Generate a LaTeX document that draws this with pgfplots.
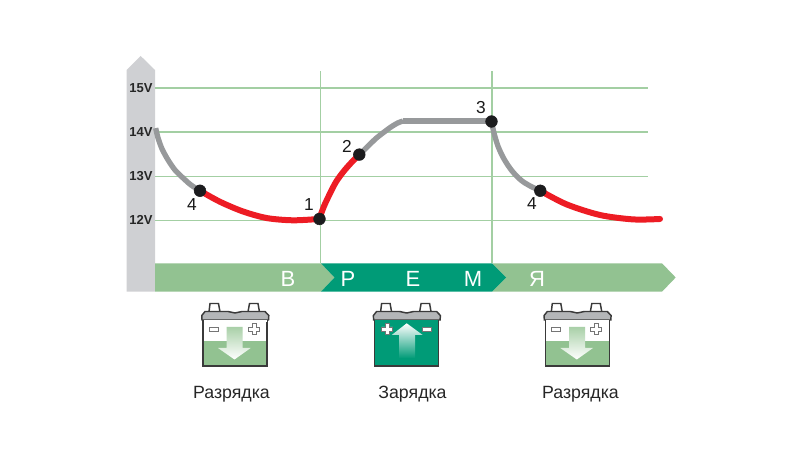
\documentclass[border=0pt]{standalone}
\usepackage{fontspec}
\setmainfont{Liberation Sans}
\usepackage{pgfplots}
\pgfplotsset{compat=1.18}

\definecolor{lgreen}{HTML}{92C291}
\definecolor{gridg}{HTML}{A3CFA3}
\definecolor{tealg}{HTML}{009B77}
\definecolor{barg}{HTML}{CFD0D3}
\definecolor{curveg}{HTML}{97999B}
\definecolor{curver}{HTML}{ED1C24}
\definecolor{dot}{HTML}{1C1C1E}
\definecolor{lid}{HTML}{B4B6B8}
\definecolor{edge}{HTML}{3A3A3A}
\definecolor{arrowg}{HTML}{A9D0A8}

% battery case, in pixels of the reference; #1 shift, #2 strip under lid, #3 electrolyte top, #4 fill colour
\newcommand{\battery}[4]{%
  \begin{scope}[xshift=#1*0.75pt]
    \fill[white] (203,320) rectangle (267,366);
    \fill[#4] (203,#3) rectangle (267,366);
    \draw[edge,line width=1.1pt] (203,319) -- (203,366) -- (267,366) -- (267,319);
    \draw[edge,line width=1.1pt,fill=white] (209,312) -- (210,303.5) -- (218.5,303.5) -- (220,312) -- cycle;
    \draw[edge,line width=1.1pt,fill=white] (248,312) -- (249.5,303.5) -- (258,303.5) -- (259.5,312) -- cycle;
    \draw[edge,line width=1.1pt,fill=lid] (202,320) -- (201.8,315.5) -- (205,311.5) -- (228,311.5) -- (235,313) -- (242,311.5) -- (265,311.5) -- (268.8,315.5) -- (268.5,320) -- cycle;
    \fill[#2] (203.5,320.2) rectangle (266.5,322);
  \end{scope}}
\newcommand{\minussign}[2]{\draw[edge!70,line width=0.5pt,fill=white] (#1-4.5,#2-2) rectangle (#1+4.5,#2+2);}
\newcommand{\plussign}[2]{\draw[edge!70,line width=0.5pt,fill=white]
  (#1-2,#2-5.5) -- (#1+2,#2-5.5) -- (#1+2,#2-2) -- (#1+5.5,#2-2) -- (#1+5.5,#2+2) -- (#1+2,#2+2) -- (#1+2,#2+5.5) -- (#1-2,#2+5.5) -- (#1-2,#2+2) -- (#1-5.5,#2+2) -- (#1-5.5,#2-2) -- (#1-2,#2-2) -- cycle;}
\newcommand{\dischargearrow}[1]{%
  \begin{scope}[xshift=#1*0.75pt]
    \shade[top color=arrowg,bottom color=white]
      (226.7,327) -- (242.7,327) -- (242.7,348) -- (250.7,348) -- (234.5,359.5) -- (218,348) -- (226.7,348) -- cycle;
    \minussign{213.5}{329}
    \plussign{254}{329}
  \end{scope}}

\begin{document}
\begin{tikzpicture}
\path (0,0) rectangle (600pt,337.5pt);

% pixel layer under the axis: voltage bar and time band
\begin{scope}[x=0.75pt,y=-0.75pt,yshift=337.5pt]
  \fill[barg] (126.7,291.7) -- (126.7,70) -- (140.7,56) -- (155,70) -- (155,291.7) -- cycle;
  \fill[lgreen] (155,263.3) -- (321,263.3) -- (334.5,277.5) -- (321,291.7) -- (155,291.7) -- cycle;
  \fill[lgreen] (492,263.3) -- (662,263.3) -- (675.7,277.5) -- (662,291.7) -- (492,291.7) -- (506,277.5) -- cycle;
  \fill[tealg] (321,263.3) -- (492,263.3) -- (506,277.5) -- (492,291.7) -- (321,291.7) -- (334.5,277.5) -- cycle;
\end{scope}

\begin{axis}[
    at={(116.25pt,140.25pt)}, anchor=south west,
    scale only axis, width=369.75pt, height=144pt,
    xmin=155, xmax=648,
    ymin=11.032, ymax=15.385,
    clip=false,
    axis line style={draw=none},
    major tick length=0pt,
    xtick={320.5,492}, xticklabels={},
    ytick={12,13,14,15}, yticklabels={12V,13V,14V,15V},
    yticklabel style={font=\bfseries\fontsize{9.75}{10}\selectfont,text=black!85,inner sep=0pt,xshift=-1.7pt},
    grid=major,
    major grid style={gridg,line width=0.9pt},
  ]
  % discharge 1, charge, discharge 2
  \addplot[curveg,line width=4pt,smooth] coordinates {(155.7,14.09) (158,13.87) (162,13.62) (168,13.37) (175,13.14) (183,12.96) (191,12.80) (200,12.67)};
  \addplot[curver,line width=4.5pt,smooth] coordinates {(200,12.67) (220,12.42) (243,12.20) (267,12.05) (293,12.00) (319,12.03)};
  \addplot[curver,line width=4.5pt,smooth] coordinates {(319.5,12.05) (324,12.32) (330,12.61) (336,12.87) (343.3,13.10) (351,13.30) (359.3,13.49)};
  \addplot[curveg,line width=4pt,smooth] coordinates {(359.3,13.49) (368,13.68) (376.7,13.87) (390,14.10) (398,14.21) (403,14.25)};
  \addplot[curveg,line width=4pt] coordinates {(403,14.25) (491.5,14.25)};
  \addplot[curveg,line width=4pt,smooth] coordinates {(491.5,14.24) (494,13.98) (498,13.68) (504,13.39) (512,13.12) (521,12.91) (530,12.78) (540.3,12.67)};
  \addplot[curver,line width=4.5pt,smooth,line cap=round] coordinates {(540.3,12.67) (566.7,12.36) (600,12.12) (633.3,12.02) (660,12.03)};
  \addplot[only marks,mark=*,mark size=4.4pt,color=dot] coordinates {(200,12.67) (319.5,12.03) (359.3,13.49) (491.5,14.24) (540.3,12.67)};
\end{axis}

% pixel layer above the axis: labels and batteries
\begin{scope}[x=0.75pt,y=-0.75pt,yshift=337.5pt]
  \foreach \x/\y/\t in {192/205/4,309/205/1,347/146/2,481/108/3,532/204/4}
    \node[font=\fontsize{13}{14}\selectfont,text=black!90,inner sep=0pt] at (\x,\y) {\t};
  \foreach \x/\t in {288/В,348/Р,413/Е,473/М,537/Я}
    \node[font=\fontsize{16.5}{17}\selectfont,text=white,inner sep=0pt] at (\x,278.5) {\t};

  \battery{0}{white}{341}{lgreen}
  \dischargearrow{0}
  \battery{171.6}{tealg}{320}{tealg}
  \begin{scope}[xshift=171.6*0.75pt]
    \shade[top color=white,bottom color=tealg]
      (227.4,358.3) -- (227.4,335) -- (220.1,335) -- (235.1,323.3) -- (251.1,335) -- (243.4,335) -- (243.4,358.3) -- cycle;
    \plussign{215.4}{329}
    \minussign{255.4}{329}
  \end{scope}
  \battery{342.3}{white}{341}{lgreen}
  \dischargearrow{342.3}

  \foreach \x/\t in {231.5/Разрядка,412.5/Зарядка,580.5/Разрядка}
    \node[font=\fontsize{13.3}{14}\selectfont,text=black!85,inner sep=0pt] at (\x,394) {\t};
\end{scope}
\end{tikzpicture}
\end{document}
